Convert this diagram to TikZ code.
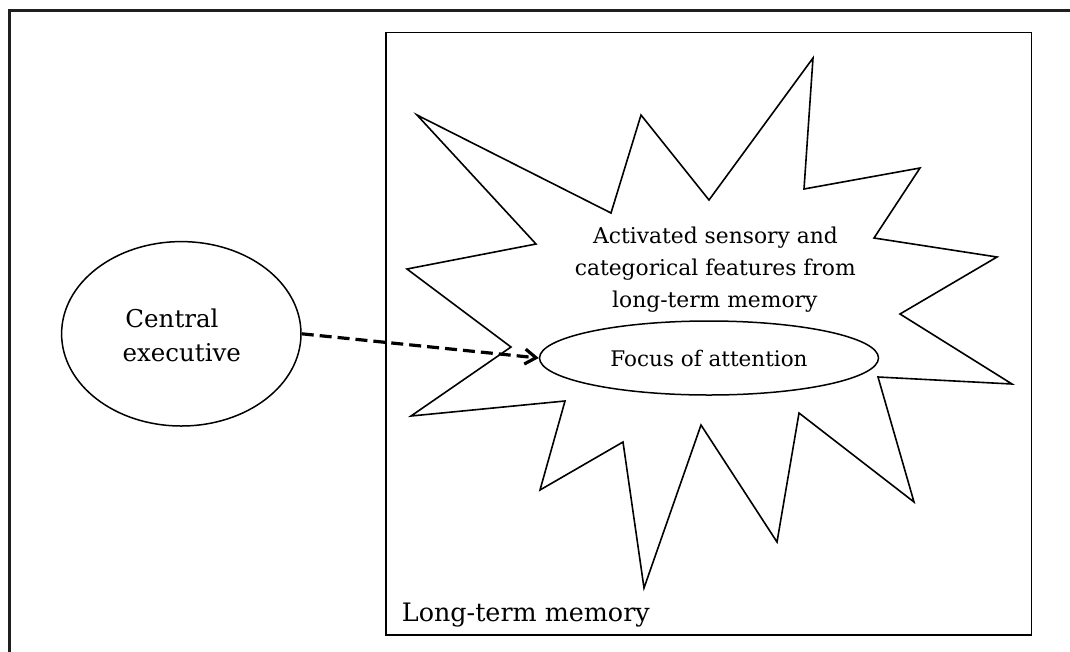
\documentclass[tikz,border=0pt]{standalone}
\usepackage{fontspec}
\setmainfont{DejaVu Serif}
\usetikzlibrary{shapes.geometric,arrows.meta}

\tikzset{
  frame/.style={line width=2.2pt, draw=black!88},
  ltmbox/.style={line width=1.8pt, draw=black},
  burst/.style={line width=1.6pt, draw=black, line join=miter},
  oval/.style={ellipse, draw=black, line width=1.5pt, inner sep=0pt},
  txt/.style={anchor=base, inner sep=0pt},
  bigtxt/.style={txt, font=\fontsize{24.5}{28}\selectfont},
  midtxt/.style={txt, font=\fontsize{21.8}{28}\selectfont},
  dasharrow/.style={line width=3.2pt, dash pattern=on 12pt off 6pt,
    -{Straight Barb[length=11pt,width=15pt,line width=3.2pt]}}
}

\begin{document}
\begin{tikzpicture}[x=1pt,y=-1pt]
\useasboundingbox (0,0) rectangle (1070,651);
\clip (0,0) rectangle (1070,651);

% outer frame, running off the page on the right and at the bottom
\draw[frame] (9.5,700) -- (9.5,10.5) -- (1100,10.5);

% long-term memory box
\draw[ltmbox] (386,32.5) rectangle (1031.5,635);
\node[txt, anchor=base west, font=\fontsize{25.4}{30}\selectfont] (ltm) at (401.7,621.7) {Long-term memory};

% burst of activated features
\draw[burst] (417,115) -- (611,213) -- (641,115) -- (709,200) -- (813,58)
  -- (804,189) -- (920,168) -- (874,238) -- (997,257) -- (900,314)
  -- (1012,384) -- (878,377) -- (914,502) -- (799,413) -- (777,542)
  -- (701,425) -- (644,588) -- (623,442) -- (540,490) -- (565,401)
  -- (411,416) -- (511,347) -- (407,269) -- (536,244) -- cycle;

\node[midtxt] (act1) at (715.5,243) {Activated sensory and};
\node[midtxt] (act2) at (715.3,275) {categorical features from};
\node[midtxt] (act3) at (714.8,307) {long-term memory};

% focus of attention
\node[oval, fill=white, minimum width=339pt, minimum height=74pt] (foa) at (709,358) {};
\node[midtxt, font=\fontsize{21.5}{28}\selectfont] (foatext) at (709,366.7) {Focus of attention};

% central executive
\node[oval, minimum width=239.4pt, minimum height=184.4pt] (ce) at (181.3,333.8) {};
\node[bigtxt] (ce1) at (172,327.3) {Central};
\node[bigtxt] (ce2) at (181.8,361.7) {executive};

% control link
\draw[dasharrow] (ce.east) -- (foa.west);
\end{tikzpicture}
\end{document}
